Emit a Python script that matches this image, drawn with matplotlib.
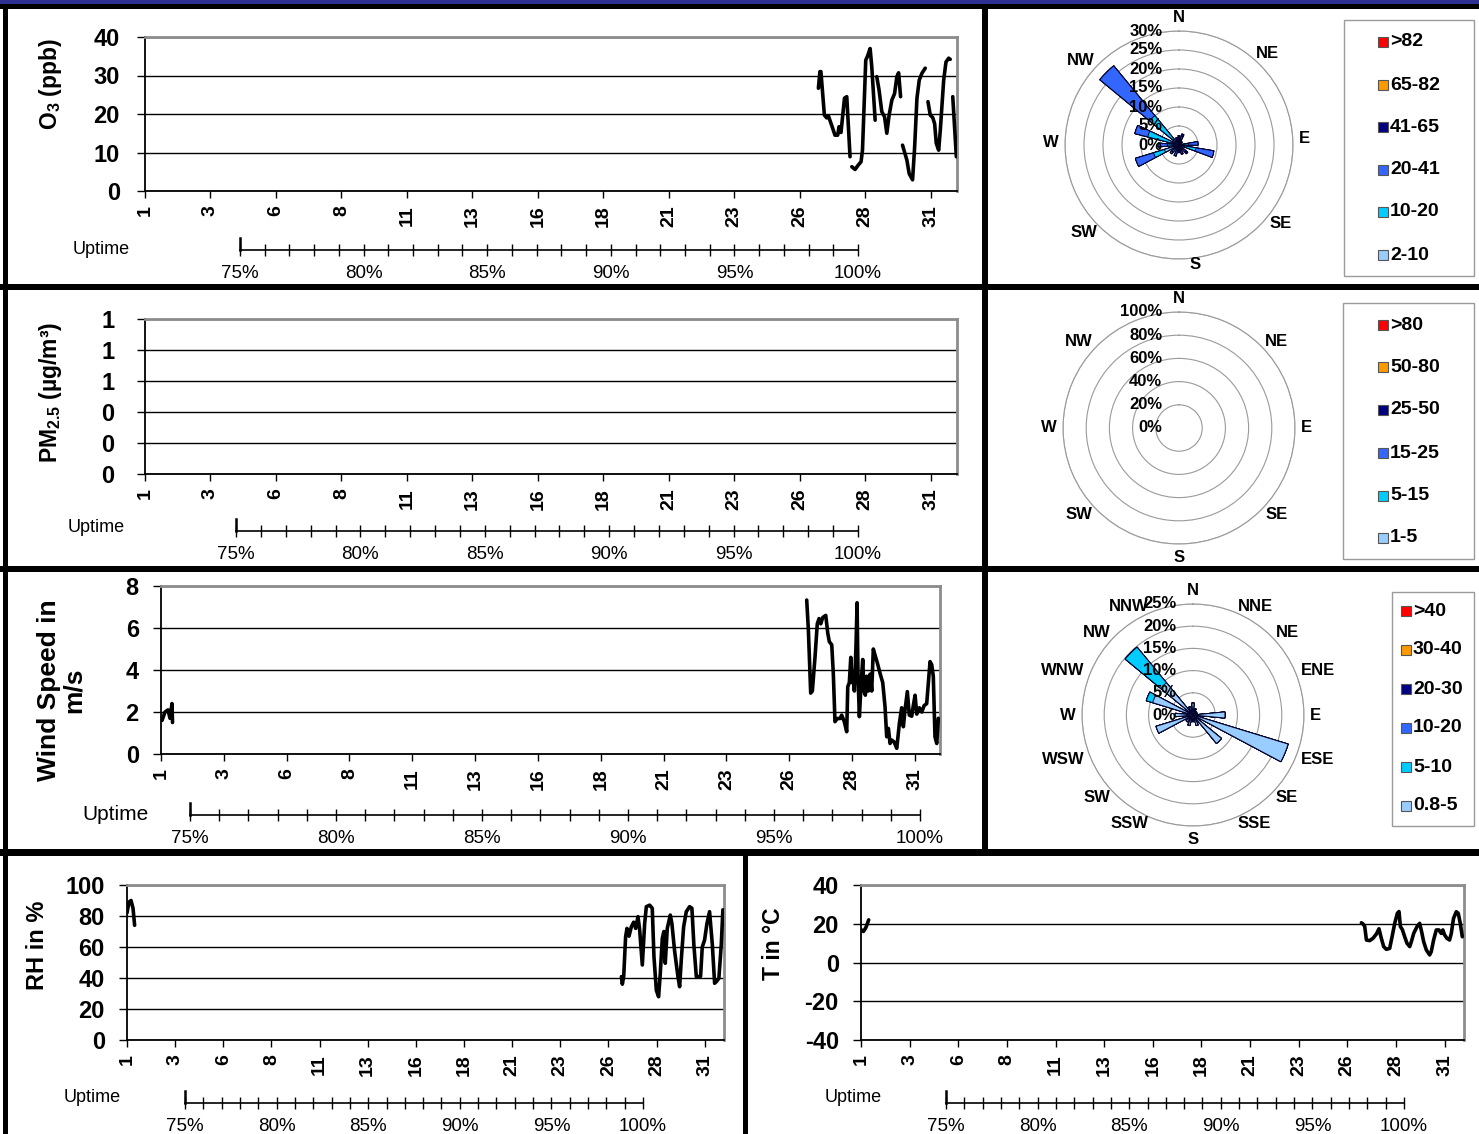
import numpy as np
import matplotlib
matplotlib.use('Agg')
import matplotlib.pyplot as plt
from matplotlib.patches import Rectangle
from matplotlib.ticker import MultipleLocator, FormatStrFormatter

plt.rcParams['font.family'] = ['Liberation Sans', 'DejaVu Sans']
plt.rcParams['mathtext.fontset'] = 'custom'
plt.rcParams['mathtext.rm'] = 'Liberation Sans:bold'
plt.rcParams['mathtext.bf'] = 'Liberation Sans:bold'
plt.rcParams['mathtext.default'] = 'bf'
plt.rcParams['axes.unicode_minus'] = False

NaN = float('nan')

# ---------------- data ----------------
# x axis: hours since start of month (31 days = 744 h); labels are day numbers
day_tick_hours = [0, 60, 120, 180, 240, 300, 360, 420, 480, 540, 600, 660, 720]
day_tick_labels = ['1', '3', '6', '8', '11', '13', '16', '18', '21', '23', '26', '28', '31']

o3_hours = [617.0, 618.4, 619.3, 622.5, 624.6, 626.2, 629.6, 632.2, 634.7, 635.9, 637.7, 640.9, 643.0, 646.0,
            646.8,
            647.6, 650.6, 653.7, 656.1, 657.4, 660.4, 662.0, 664.4, 665.9, 669.0,
            669.7,
            670.5, 672.6, 675.1, 677.6, 679.7, 681.8, 684.3, 686.8, 688.9, 690.5, 692.3,
            693.2,
            694.1, 698.1, 700.2, 703.3, 705.2, 707.3, 709.4, 711.9, 714.9,
            716.1,
            717.4, 719.5, 721.7, 723.5, 725.0, 727.2, 728.7, 731.8, 733.9, 736.4, 737.8,
            739.0,
            740.1, 741.9, 743.4]
o3_ppb = [26.7, 31.0, 31.0, 19.7, 19.0, 19.5, 16.7, 14.5, 14.5, 16.7, 15.2, 24.1, 24.5, 8.9,
          NaN,
          6.3, 5.6, 6.8, 7.6, 10.6, 34.0, 35.0, 37.0, 32.3, 18.4,
          NaN,
          29.7, 26.2, 20.6, 19.3, 15.0, 19.7, 23.6, 25.3, 29.7, 30.7, 24.5,
          NaN,
          11.9, 8.0, 4.5, 2.9, 11.5, 24.1, 28.8, 30.6, 31.9,
          NaN,
          23.2, 19.7, 19.1, 17.5, 12.4, 10.6, 15.8, 28.8, 33.5, 34.5, 34.2,
          NaN,
          24.5, 16.0, 8.9]

ws_hours = [1.0, 3.8, 6.7, 8.6, 10.5, 11.0,
            300.0,
            616.7, 618.3, 620.5, 622.1, 624.6, 626.8, 628.5, 630.1, 632.0, 634.9, 636.8, 638.3, 640.6,
            642.1, 643.7, 645.9, 648.5, 650.1, 652.6, 654.9, 655.9, 657.4, 658.8, 660.0, 661.3, 662.2,
            663.8, 664.8, 665.7, 667.0, 668.6, 670.2, 671.4, 672.7, 674.0, 675.6, 677.2, 678.8, 680.3,
            682.6, 684.1, 686.7, 689.3, 691.5, 693.1, 694.7, 696.3, 697.9, 700.1, 702.7, 705.2, 707.4,
            709.0, 710.6, 712.8, 714.7, 717.0, 718.5, 720.2, 721.8, 724.3, 726.6, 728.8, 731.3, 734.5,
            736.1, 737.6, 739.2, 740.9, 742.4]
ws_ms = [1.6, 2.0, 2.1, 1.7, 2.4, 1.5,
         NaN,
         7.33, 5.9, 2.9, 3.0, 4.6, 6.2, 6.45, 6.2, 6.5, 6.6, 5.75, 5.35, 5.2,
         3.84, 1.54, 1.69, 1.69, 1.85, 1.54, 1.06, 3.2, 3.4, 4.6, 3.4, 3.8, 3.0,
         5.2, 7.2, 3.7, 1.78, 3.3, 4.5, 3.0, 2.8, 3.7, 3.0, 3.8, 3.0, 5.0,
         4.6, 4.35, 3.85, 3.4, 2.25, 0.82, 1.22, 0.5, 0.66, 0.58, 0.27, 1.46, 2.2,
         1.3, 2.1, 2.97, 1.85, 1.8, 2.3, 2.8, 1.9, 2.2, 2.0, 2.3, 2.4, 4.4,
         4.25, 3.7, 0.82, 0.5, 1.7]

rh_hours = [0.0, 2.5, 5.0, 7.5, 9.5,
            300.0,
            616.1, 617.3, 619.0, 621.4, 623.1, 625.6, 628.5, 631.4, 633.9, 636.8, 638.9, 642.2, 645.1,
            647.2, 651.3, 654.6, 656.7, 659.7, 662.5, 664.6, 667.1, 669.1, 670.8, 673.3, 677.1, 679.1,
            682.4, 686.6, 688.7, 690.8, 693.7, 697.0, 701.1, 704.0, 706.5, 709.5, 712.7, 714.8, 716.9,
            719.8, 722.7, 726.0, 729.4, 732.3, 735.1, 737.6, 740.6, 742.6]
rh_pct = [82, 89, 90, 85, 74,
          NaN,
          40.9, 36, 41, 66.7, 72, 67, 73, 76, 72, 79.6, 71, 48.4, 75,
          86, 87, 85, 53.8, 32, 27.9, 43, 65.6, 70, 49.5, 72, 80.6, 75,
          57.6, 40.9, 34.4, 52, 73, 82.8, 86, 85, 61, 40.9, 40.9, 41, 60,
          64.5, 75, 82.8, 62, 36.6, 38, 39.8, 61.5, 84]

t_hours = [0.0, 3.0, 6.0, 9.5,
           300.0,
           617.4, 619.4, 621.5, 623.6, 627.6, 631.7, 635.9, 639.1, 642.0, 644.9, 648.2, 652.3, 655.6,
           658.5, 661.8, 663.8, 665.5, 668.0, 670.8, 673.7, 677.0, 679.1, 681.9, 686.0, 689.3, 691.7,
           694.2, 697.5, 701.6, 703.6, 706.5, 709.8, 713.0, 715.9, 717.9, 720.1, 722.9, 726.2, 728.3,
           731.1, 734.5, 736.9, 739.4, 741.9]
t_degc = [17, 16, 18, 22,
          NaN,
          20.5, 19.9, 18.6, 11.6, 11.3, 12.5, 14.7, 17.4, 12.5, 8.2, 6.8, 7.3, 14.0,
          20.2, 25.4, 26.3, 18.6, 16.9, 13.3, 9.9, 8.2, 10.8, 15.0, 18.5, 20.2, 15.9,
          10.8, 6.5, 3.9, 5.6, 11.6, 16.8, 16.8, 15.0, 16.8, 14.2, 12.5, 11.6, 15.0,
          22.8, 26.2, 25.4, 20.2, 13.3]

pm_hours = []
pm_vals = []

uptime_ticks = [75, 80, 85, 90, 95, 100]

# wind roses
class_colors = ['#99CCFF', '#00CCFF', '#3366FF', '#000080', '#FF9900', '#FF0000']

o3_classes = ['2-10', '10-20', '20-41', '41-65', '65-82', '>82']
o3_rose_dirs = [0, 20, 45, 85, 105, 135, 160, 180, 200, 225, 247.5, 270, 290, 315, 340]
o3_rose_freq = [  # % per class, in the order of o3_classes
    [0.5, 0.5, 1.0, 0.5, 0, 0],
    [0.5, 0.5, 1.5, 0.5, 0, 0],
    [0.3, 0.3, 0.5, 0, 0, 0],
    [1.0, 1.5, 2.5, 0, 0, 0],
    [1.5, 3.0, 4.8, 0, 0, 0],
    [0.5, 0.5, 1.5, 0.5, 0, 0],
    [0.5, 0.5, 1.5, 0, 0, 0],
    [0.5, 0.5, 1.0, 0, 0, 0],
    [0.5, 1.0, 1.5, 0, 0, 0],
    [1.5, 1.0, 0.5, 0, 0, 0],
    [4.0, 3.0, 5.0, 0, 0, 0],
    [1.5, 1.5, 2.5, 0, 0, 0],
    [2.0, 6.5, 3.5, 0, 0, 0],
    [2.0, 8.0, 17.0, 0, 0, 0],
    [0.5, 0.5, 1.0, 0, 0, 0],
]
o3_rings = [0, 5, 10, 15, 20, 25, 30]
o3_dir_labels = ['N', 'NE', 'E', 'SE', 'S', 'SW', 'W', 'NW']
o3_dir_label_angles = [0, 40, 87, 131, 175, 223, 271, 315]

pm_classes = ['1-5', '5-15', '15-25', '25-50', '50-80', '>80']
pm_rings = [0, 20, 40, 60, 80, 100]
pm_dir_labels = ['N', 'NE', 'E', 'SE', 'S', 'SW', 'W', 'NW']
pm_dir_label_angles = [0, 45, 90, 135, 180, 225, 270, 315]

ws_classes = ['0.8-5', '5-10', '10-20', '20-30', '30-40', '>40']
ws_rose_dirs = [0, 22.5, 45, 67.5, 90, 112.5, 135, 157.5, 180, 202.5, 225, 247.5, 270, 292.5, 315, 337.5]
ws_rose_freq = [
    [2.7, 0, 0, 0, 0, 0],
    [1.5, 0, 0, 0, 0, 0],
    [1.0, 0, 0, 0, 0, 0],
    [1.0, 0, 0, 0, 0, 0],
    [7.2, 0, 0, 0, 0, 0],
    [22.4, 0, 0, 0, 0, 0],
    [8.3, 0, 0, 0, 0, 0],
    [2.5, 0, 0, 0, 0, 0],
    [1.5, 0, 0, 0, 0, 0],
    [2.5, 0, 0, 0, 0, 0],
    [2.0, 0, 0, 0, 0, 0],
    [8.7, 0, 0, 0, 0, 0],
    [4.0, 0, 0, 0, 0, 0],
    [9.5, 1.5, 0, 0, 0, 0],
    [9.4, 10.4, 0, 0, 0, 0],
    [2.0, 0, 0, 0, 0, 0],
]
ws_rings = [0, 5, 10, 15, 20, 25]
ws_dir_labels = ['N', 'NNE', 'NE', 'ENE', 'E', 'ESE', 'SE', 'SSE', 'S', 'SSW', 'SW', 'WSW', 'W', 'WNW', 'NW', 'NNW']
ws_dir_label_angles = [0, 22.5, 45, 67.5, 90, 112.5, 135, 157.5, 180, 202.5, 225, 247.5, 270, 292.5, 315, 337.5]

# ---------------- figure ----------------
W, H = 1479, 1134
fig = plt.figure(figsize=(W / 100, H / 100), dpi=100)
fig.patch.set_facecolor('white')


def px_axes(x0, y0, x1, y1, **kw):
    return fig.add_axes([x0 / W, 1 - y1 / H, (x1 - x0) / W, (y1 - y0) / H], **kw)


bg = fig.add_axes([0, 0, 1, 1], zorder=-10)
bg.set_xlim(0, W)
bg.set_ylim(H, 0)
bg.axis('off')

fg = fig.add_axes([0, 0, 1, 1], zorder=10)
fg.set_xlim(0, W)
fg.set_ylim(H, 0)
fg.axis('off')
fg.patch.set_alpha(0)


def block(x0, y0, x1, y1, c='black'):
    fg.add_patch(Rectangle((x0, y0), x1 - x0, y1 - y0, facecolor=c, edgecolor='none', lw=0))


# panel frames
block(0, 0, W, 3.5, '#2E3192')
block(0, 3.5, W, 8.5)
block(3, 8, 8, H)
block(0, 284, W, 290)
block(0, 566, W, 572)
block(0, 849, W, 856)
block(982, 8, 988, 852)
block(743, 852, 748, H)


def ts_panel(box, xs, ys, ylim, yticks, ypad=12):
    ax = px_axes(*box)
    if len(xs):
        ax.plot(xs, ys, color='black', lw=2.6, solid_joinstyle='round', solid_capstyle='round', zorder=3)
    ax.set_xlim(0, 744)
    ax.set_ylim(*ylim)
    ax.set_yticks(yticks)
    ax.set_xticks(day_tick_hours)
    ax.set_xticklabels(day_tick_labels, rotation=90, fontweight='bold', fontsize=14, va='top')
    ax.tick_params(axis='y', length=6, width=1, labelsize=17, pad=ypad)
    ax.tick_params(axis='x', length=5, width=1, pad=5)
    ax.yaxis.grid(True, color='black', lw=1)
    ax.set_axisbelow(True)
    for s in ['top', 'right']:
        ax.spines[s].set_color('#8c8c8c')
        ax.spines[s].set_linewidth(2)
    for s in ['left', 'bottom']:
        ax.spines[s].set_color('black')
        ax.spines[s].set_linewidth(1.3)
    return ax


def bold_yticks(ax):
    for lab in ax.get_yticklabels():
        lab.set_fontweight('bold')


def uptime_axis(x0, x1, y, lab_x, lab_y, lab_fs):
    ax = px_axes(x0, y - 12, x1, y + 12)
    ax.set_xlim(75, 100)
    ax.set_ylim(-1, 1)
    ax.patch.set_alpha(0)
    for s in ['top', 'right']:
        ax.spines[s].set_visible(False)
    ax.spines['bottom'].set_position(('data', 0))
    ax.spines['bottom'].set_linewidth(1.2)
    ax.spines['left'].set_bounds(0, 1)
    ax.spines['left'].set_linewidth(1.8)
    ax.set_yticks([])
    ax.set_xticks(uptime_ticks)
    ax.set_xticklabels([f'{v}%' for v in uptime_ticks])
    ax.xaxis.set_minor_locator(MultipleLocator(1))
    ax.tick_params(axis='x', which='both', direction='inout', length=8, width=1, pad=7, labelsize=13.5)
    bg.text(lab_x, lab_y, 'Uptime', ha='center', va='center', fontsize=lab_fs)
    return ax


def rose(center, rad_px, rmax, rings, dirs, freqs, dir_labels, dir_angles, width_deg=11):
    cx, cy = center
    ax = px_axes(cx - rad_px, cy - rad_px, cx + rad_px, cy + rad_px, projection='polar')
    ax.set_theta_zero_location('N')
    ax.set_theta_direction(-1)
    ax.set_ylim(0, rmax)
    ax.set_facecolor('none')
    ax.set_xticks([])
    ax.set_yticks(rings[1:])
    ax.set_yticklabels([])
    ax.yaxis.grid(True, color='#9a9a9a', lw=0.8)
    ax.xaxis.grid(False)
    ax.spines['polar'].set_color('#9a9a9a')
    ax.spines['polar'].set_linewidth(0.8)
    if len(dirs):
        th = np.deg2rad(np.array(dirs, dtype=float))
        cum = np.cumsum(np.array(freqs, dtype=float), axis=1)
        for k in range(cum.shape[1] - 1, -1, -1):
            ax.bar(th, cum[:, k], width=np.deg2rad(width_deg), color=class_colors[k],
                   edgecolor='#00002a', lw=0.7, zorder=3)
    for r in rings:
        ax.annotate(f'{r}%', xy=(0, r), xytext=(-12, 0), textcoords='offset points',
                    ha='right', va='center', fontsize=12, fontweight='bold', zorder=5,
                    annotation_clip=False)
    rl = rmax * (1 + 6.0 / rad_px)
    for lab, a in zip(dir_labels, dir_angles):
        s = np.sin(np.deg2rad(a))
        c = np.cos(np.deg2rad(a))
        if abs(s) < 0.05:
            ha = 'center'
            va = 'bottom' if c > 0 else 'top'
        else:
            ha = 'left' if s > 0 else 'right'
            va = 'center'
        ax.text(np.deg2rad(a), rl, lab, ha=ha, va=va, fontsize=12, fontweight='bold', clip_on=False)
    return ax


def legend_box(x0, y0, x1, y1, sq_x, item_ys, labels, colors, fs=14):
    bg.add_patch(Rectangle((x0, y0), x1 - x0, y1 - y0, fill=False, edgecolor='#9a9a9a', lw=1))
    for yy, lab, col in zip(item_ys, labels, colors):
        bg.add_patch(Rectangle((sq_x - 5, yy - 5), 10, 10, facecolor=col, edgecolor='#555555', lw=0.8))
        bg.text(sq_x + 7, yy, lab, ha='left', va='center', fontsize=fs, fontweight='bold')


# ---- O3 ----
ax1 = ts_panel((145, 37, 957, 191), o3_hours, o3_ppb, (0, 40), [0, 10, 20, 30, 40], ypad=12)
bold_yticks(ax1)
bg.text(50, 84, r'O$_3$ (ppb)', rotation=90, ha='center', va='center', fontsize=16.5, fontweight='bold')
uptime_axis(240, 858, 250, 101, 250, 13)
rose((1179, 145), 114, 30, o3_rings, o3_rose_dirs, o3_rose_freq, o3_dir_labels, o3_dir_label_angles)
legend_box(1344, 20, 1474, 276, 1383, [42, 85, 127, 170, 212, 255], o3_classes[::-1], class_colors[::-1])

# ---- PM2.5 ----
axp = ts_panel((145, 319, 957, 474), pm_hours, pm_vals, (0, 1), [0, 0.2, 0.4, 0.6, 0.8, 1.0], ypad=16)
axp.yaxis.set_major_formatter(FormatStrFormatter('%.0f'))
bold_yticks(axp)
bg.text(50, 392, 'PM$_{2.5}$ (µg/m³)', rotation=90, ha='center', va='center', fontsize=16.5, fontweight='bold')
uptime_axis(236, 858, 531, 96, 528, 13)
rose((1179, 428), 116, 100, pm_rings, [], [], pm_dir_labels, pm_dir_label_angles)
legend_box(1343, 303, 1474, 559, 1383, [325, 367, 410, 453, 496, 538], pm_classes[::-1], class_colors[::-1])

# ---- Wind speed ----
ax3 = ts_panel((161, 586, 940, 754), ws_hours, ws_ms, (0, 8), [0, 2, 4, 6, 8], ypad=10)
bold_yticks(ax3)
bg.text(61, 690, 'Wind Speed in\nm/s', rotation=90, ha='center', va='center', fontsize=19,
        fontweight='bold', multialignment='center', linespacing=1.05)
uptime_axis(190, 920, 815, 116, 815, 15)
rose((1193, 715), 111, 25, ws_rings, ws_rose_dirs, ws_rose_freq, ws_dir_labels, ws_dir_label_angles)
legend_box(1392, 592, 1474, 826, 1406, [611, 650, 689, 728, 767, 806], ws_classes[::-1], class_colors[::-1])

# ---- RH ----
ax4 = ts_panel((127, 885, 724, 1040), rh_hours, rh_pct, (0, 100), [0, 20, 40, 60, 80, 100], ypad=10)
bold_yticks(ax4)
bg.text(37, 945, 'RH in %', rotation=90, ha='center', va='center', fontsize=17, fontweight='bold')
uptime_axis(185, 643, 1103, 92, 1097, 13)

# ---- Temperature ----
ax5 = ts_panel((861, 885, 1464, 1040), t_hours, t_degc, (-40, 40), [-40, -20, 0, 20, 40], ypad=10)
bold_yticks(ax5)
bg.text(773, 944, 'T in °C', rotation=90, ha='center', va='center', fontsize=16.5, fontweight='bold')
uptime_axis(946, 1404, 1103, 853, 1097, 13)

fig.savefig('out.png', dpi=100)
